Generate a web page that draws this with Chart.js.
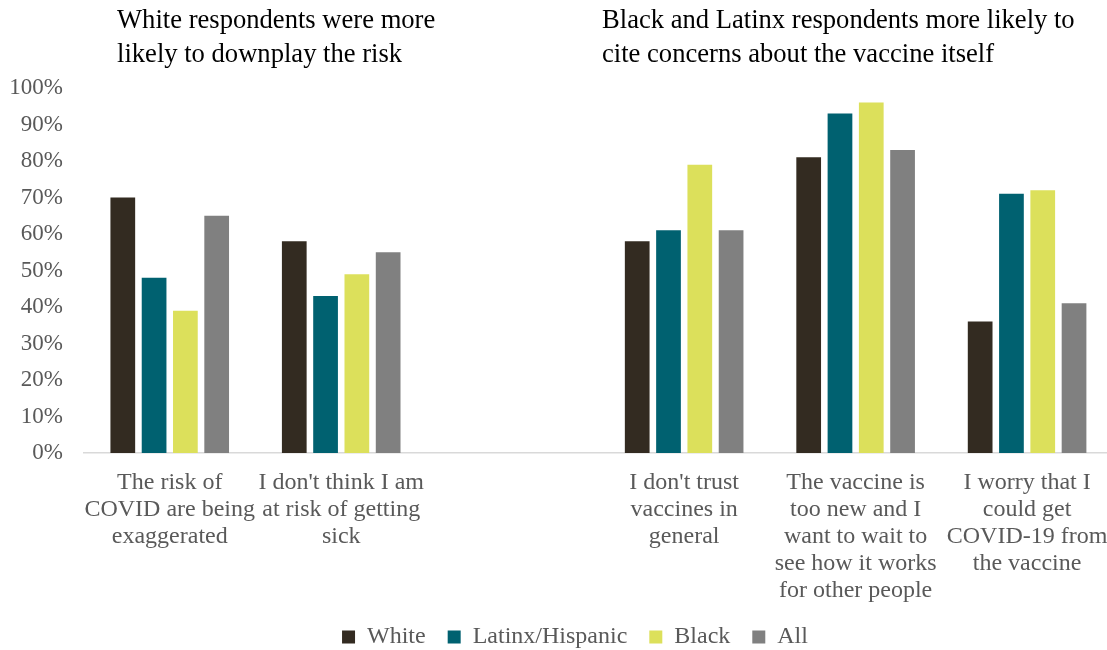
<!DOCTYPE html>
<html>
<head>
<meta charset="utf-8">
<script src="https://cdn.jsdelivr.net/npm/chart.js@4.4.1/dist/chart.umd.min.js"></script>
<style>
  html, body { margin: 0; padding: 0; background: #fff; overflow: hidden; }
  #wrap { width: 1124px; height: 650px; }
</style>
</head>
<body>
<div id="wrap"><canvas id="myChart"></canvas></div>
<script>
const categories = [
    ["The risk of", "COVID are being", "exaggerated"],
    ["I don't think I am", "at risk of getting", "sick"],
    "",
    ["I don't trust", "vaccines in", "general"],
    ["The vaccine is", "too new and I", "want to wait to", "see how it works", "for other people"],
    ["I worry that I", "could get", "COVID-19 from", "the vaccine"]
];

const white = [70, 58, null, 58, 81, 36];
const latinx = [48, 43, null, 61, 93, 71];
const black = [39, 49, null, 79, 96, 72];
const all = [65, 55, null, 61, 83, 41];

const seriesNames = ["White", "Latinx/Hispanic", "Black", "All"];
const seriesColors = ["#332b21", "#006170", "#dce05b", "#808080"];

const leftTitle = ["White respondents were more", "likely to downplay the risk"];
const rightTitle = ["Black and Latinx respondents more likely to", "cite concerns about the vaccine itself"];

const serif = "'Liberation Serif', 'Times New Roman', serif";
const gray = "#595959";

// the two headings sit above the plot, one per half
const titlesPlugin = {
    id: "titles",
    afterDraw (chart)
    {
        const ctx = chart.ctx;
        ctx.save();
        ctx.fillStyle = "#000";
        ctx.font = `26.6px ${serif}`;
        ctx.textBaseline = "alphabetic";
        ctx.textAlign = "left";
        leftTitle.forEach((line, i) => ctx.fillText(line, 117, 28 + i * 34));
        rightTitle.forEach((line, i) => ctx.fillText(line, 602, 28 + i * 34));
        ctx.restore();
    }
};

// legend is centred a bit right of the canvas middle in the original
const legendShift = {
    id: "legendShift",
    afterLayout (chart)
    {
        const lg = chart.legend;
        lg.left += 16.5;
        lg.right += 16.5;
    }
};

const datasets = [white, latinx, black, all].map((values, i) => ({
    label: seriesNames[i],
    data: values,
    backgroundColor: seriesColors[i],
    borderWidth: 0,
    categoryPercentage: 0.73,
    barPercentage: 0.79
}));

new Chart(document.getElementById("myChart"), {
    type: "bar",
    data: { labels: categories, datasets },
    plugins: [titlesPlugin, legendShift],
    options: {
        responsive: true,
        maintainAspectRatio: false,
        animation: false,
        layout: { padding: { top: 88, left: 0, right: 7, bottom: -9 } },
        plugins: {
            title: { display: false },
            tooltip: { enabled: false },
            legend: {
                position: "bottom",
                labels: {
                    font: { family: serif, size: 24 },
                    color: gray,
                    boxWidth: 13,
                    boxHeight: 13,
                    padding: 22
                }
            }
        },
        scales: {
            x: {
                grid: { display: false, drawTicks: false },
                border: { display: true, color: "#d9d9d9", width: 1.5 },
                ticks: {
                    font: { family: serif, size: 24, lineHeight: 1.125 },
                    color: gray,
                    padding: 16,
                    maxRotation: 0,
                    minRotation: 0,
                    autoSkip: false
                },
                afterFit (axis) { axis.height = 150; }
            },
            y: {
                min: 0,
                max: 100,
                grid: { display: false, drawTicks: false },
                border: { display: false },
                ticks: {
                    stepSize: 10,
                    font: { family: serif, size: 23 },
                    color: gray,
                    padding: 21,
                    callback: v => v + "%"
                },
                afterFit (axis) { axis.width = 84; }
            }
        }
    }
});
</script>
</body>
</html>
